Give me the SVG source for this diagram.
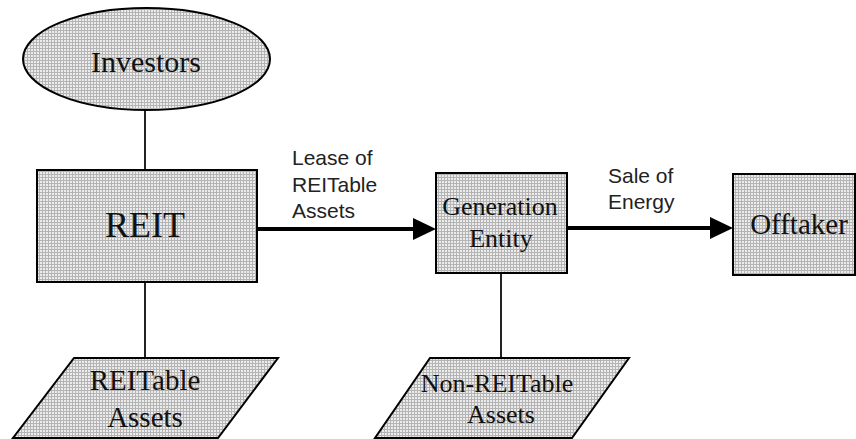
<svg xmlns="http://www.w3.org/2000/svg" width="856" height="439" viewBox="0 0 856 439">
<style>
.shape{fill:url(#dither);stroke:#000;stroke-width:2}
.node{font-family:"Liberation Serif","Times New Roman",serif;fill:#111;text-anchor:middle}
.lbl{font-family:"Liberation Sans",Arial,sans-serif;font-size:21px;fill:#222}
.link{stroke:#222;stroke-width:2;fill:none}
.flow{stroke:#000;stroke-width:4;fill:none}
.head{fill:#000}
</style>
<defs>
<pattern id="dither" width="3" height="3" patternUnits="userSpaceOnUse">
<rect width="3" height="3" fill="#ececec"/>
<rect width="1" height="3" fill="#b4b4b4"/>
<rect width="3" height="1" fill="#b4b4b4"/>
</pattern>
</defs>
<rect width="856" height="439" fill="#fff"/>
<g id="connectors">
<line class="link" x1="145" y1="110" x2="145" y2="170"/>
<line class="link" x1="145" y1="282" x2="145" y2="358"/>
<line class="link" x1="501" y1="273" x2="501" y2="358"/>
<line class="flow" x1="257" y1="229" x2="415" y2="229"/>
<polygon class="head" points="413,218 436,229 413,240"/>
<line class="flow" x1="567" y1="228" x2="712" y2="228"/>
<polygon class="head" points="710,217 733,228 710,239"/>
<text class="lbl" x="292" y="165">Lease of</text>
<text class="lbl" x="292" y="192">REITable</text>
<text class="lbl" x="292" y="218">Assets</text>
<text class="lbl" x="608" y="183">Sale of</text>
<text class="lbl" x="608" y="209">Energy</text>
</g>
<g id="investors">
<ellipse class="shape" cx="146.5" cy="59" rx="123.5" ry="51" stroke-width="1.5"/>
<text class="node" x="146" y="72" font-size="30">Investors</text>
</g>
<g id="reit">
<rect class="shape" x="37" y="170" width="220" height="112"/>
<text class="node" x="145" y="237" font-size="36">REIT</text>
</g>
<g id="reitable-assets">
<polygon class="shape" points="74,358 278,358 218,438 13,438" stroke-width="1.5"/>
<text class="node" x="145" y="390" font-size="29">REITable</text>
<text class="node" x="145" y="427" font-size="29">Assets</text>
</g>
<g id="generation-entity">
<rect class="shape" x="436" y="173" width="131" height="100"/>
<text class="node" x="500" y="215" font-size="26">Generation</text>
<text class="node" x="501" y="247" font-size="26">Entity</text>
</g>
<g id="non-reitable-assets">
<polygon class="shape" points="430,358 629,358 572,438 375,438" stroke-width="1.5"/>
<text class="node" x="497" y="392" font-size="26">Non-REITable</text>
<text class="node" x="501" y="423" font-size="26">Assets</text>
</g>
<g id="offtaker">
<rect class="shape" x="733" y="174" width="122" height="101"/>
<text class="node" x="799" y="234" font-size="29">Offtaker</text>
</g>
</svg>
